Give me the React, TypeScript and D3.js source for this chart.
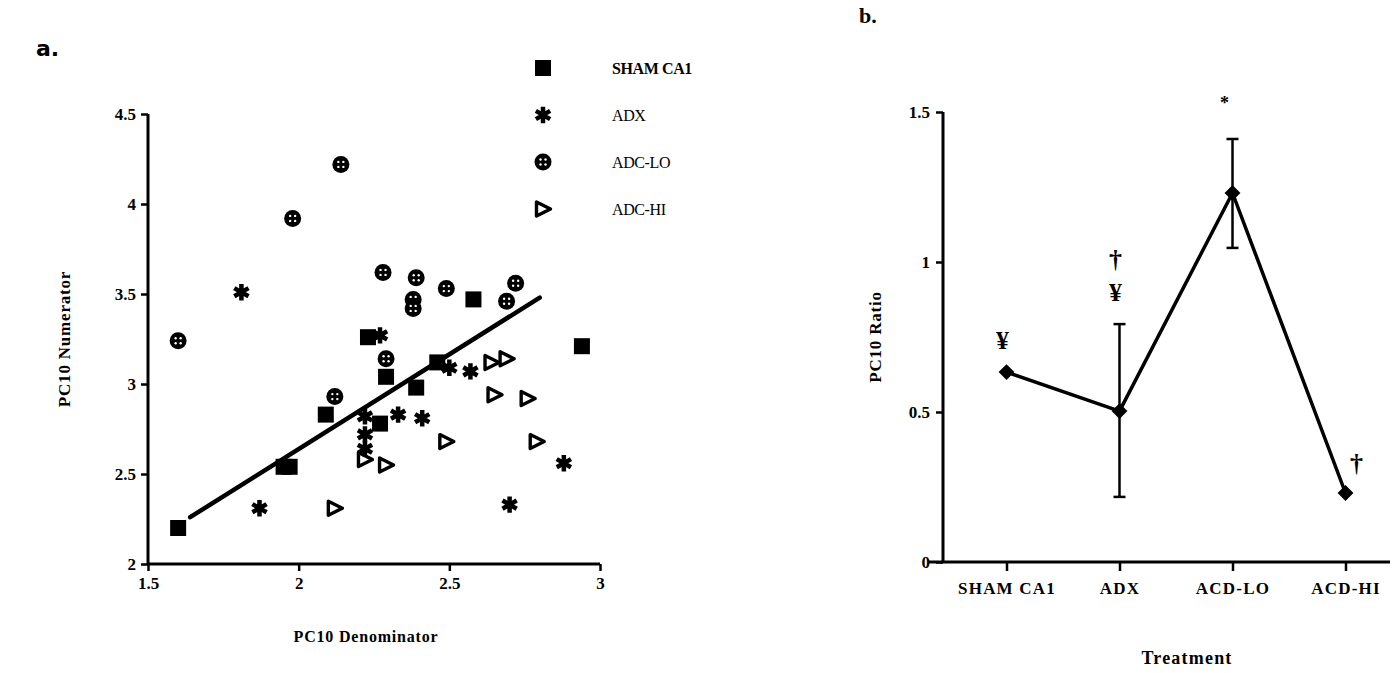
import * as d3 from "d3";
import React, { useRef, useEffect } from "react";

// panel a: PC10 numerator vs denominator, by group
const shamPts = [
  [1.6, 2.2], [1.95, 2.54], [1.97, 2.54], [2.09, 2.83], [2.23, 3.26], [2.29, 3.04],
  [2.27, 2.78], [2.39, 2.98], [2.46, 3.12], [2.58, 3.47], [2.94, 3.21],
];
const adxPts = [
  [1.81, 3.51], [1.87, 2.31], [2.27, 3.27], [2.5, 3.09], [2.57, 3.07], [2.22, 2.82],
  [2.33, 2.83], [2.41, 2.81], [2.22, 2.72], [2.22, 2.64], [2.88, 2.56], [2.7, 2.33],
];
const adcLoPts = [
  [1.6, 3.24], [1.98, 3.92], [2.14, 4.22], [2.28, 3.62], [2.39, 3.59], [2.38, 3.47],
  [2.38, 3.42], [2.49, 3.53], [2.72, 3.56], [2.69, 3.46], [2.29, 3.14], [2.12, 2.93],
];
const adcHiPts = [
  [2.12, 2.31], [2.22, 2.58], [2.29, 2.55], [2.49, 2.68], [2.64, 3.12], [2.69, 3.14],
  [2.65, 2.94], [2.76, 2.92], [2.79, 2.68],
];
const fitLine = [[1.64, 2.26], [2.8, 3.48]];
const legendLabels = ["SHAM CA1", "ADX", "ADC-LO", "ADC-HI"];
const xTicksA = [1.5, 2, 2.5, 3];
const yTicksA = [2, 2.5, 3, 3.5, 4, 4.5];

// panel b: PC10 ratio by treatment
const treatments = ["SHAM CA1", "ADX", "ACD-LO", "ACD-HI"];
const ratioValues = [0.633, 0.503, 1.23, 0.23];
const ratioErrors = [null, [0.217, 0.793], [1.047, 1.41], null];
const marks = [
  { t: "SHAM CA1", v: 0.74, s: "¥", dx: -4 },
  { t: "ADX", v: 0.9, s: "¥", dx: -4 },
  { t: "ADX", v: 1.01, s: "†", dx: -4 },
  { t: "ACD-LO", v: 1.53, s: "*", dx: -8 },
  { t: "ACD-HI", v: 0.33, s: "†", dx: 11 },
];
const yTicksB = [0, 0.5, 1, 1.5];

const serif = "'Liberation Serif', 'DejaVu Serif', serif";

const App = () => {
  const ref = useRef(null);

  useEffect(() => {
    const width = 1398;
    const height = 673;
    const svg = d3.create("svg").attr("width", width).attr("height", height)
      .style("display", "block").style("background", "#fff");

    // ---------- panel a ----------
    const x = d3.scaleLinear().domain([1.5, 3]).range([148, 600]);
    const y = d3.scaleLinear().domain([2, 4.5]).range([564, 114]);

    const ga = svg.append("g");
    ga.append("text").attr("x", 36).attr("y", 56).text("a.")
      .attr("font-family", "'DejaVu Sans', sans-serif").attr("font-weight", "bold").attr("font-size", 22);

    const axA = ga.append("g");
    axA.append("g").attr("transform", `translate(0,${y(2)})`)
      .call(d3.axisBottom(x).tickValues(xTicksA).tickSize(7).tickPadding(6).tickFormat(d3.format("")))
      .call(g => g.select(".domain").attr("stroke-width", 3).attr("d", `M${x(1.5)},0H${x(3)}`))
      .call(g => g.selectAll(".tick line").attr("stroke-width", 2.5))
      .call(g => g.selectAll(".tick text").attr("font-family", serif).attr("font-size", 17)
        .attr("font-weight", "bold").attr("fill", "#000"));
    axA.append("g").attr("transform", `translate(${x(1.5)},0)`)
      .call(d3.axisLeft(y).tickValues(yTicksA).tickSize(7).tickPadding(5).tickFormat(d3.format("")))
      .call(g => g.select(".domain").attr("stroke-width", 3).attr("d", `M0,${y(4.5)}V${y(2)}`))
      .call(g => g.selectAll(".tick line").attr("stroke-width", 2.5))
      .call(g => g.selectAll(".tick text").attr("font-family", serif).attr("font-size", 17)
        .attr("font-weight", "bold").attr("fill", "#000"));

    ga.append("text").attr("transform", `translate(70,${(y(2) + y(4.5)) / 2}) rotate(-90)`)
      .attr("text-anchor", "middle").attr("font-family", serif).attr("font-weight", "bold")
      .attr("font-size", 17).attr("letter-spacing", 0.8).text("PC10  Numerator");
    ga.append("text").attr("x", 366).attr("y", 642).attr("text-anchor", "middle")
      .attr("font-family", serif).attr("font-weight", "bold").attr("font-size", 16)
      .attr("letter-spacing", 0.8).text("PC10  Denominator");

    ga.append("line").attr("x1", x(fitLine[0][0])).attr("y1", y(fitLine[0][1]))
      .attr("x2", x(fitLine[1][0])).attr("y2", y(fitLine[1][1]))
      .attr("stroke", "#000").attr("stroke-width", 4.5).attr("stroke-linecap", "round");

    const drawSquare = (g, cx, cy) => g.append("rect").attr("x", cx - 8).attr("y", cy - 8)
      .attr("width", 16).attr("height", 16).attr("fill", "#000");
    const drawStar = (g, cx, cy) => g.append("path").attr("transform", `translate(${cx},${cy})`)
      .attr("d", d3.symbol(d3.symbolAsterisk, 190)()).attr("stroke", "#000").attr("stroke-width", 4.5)
      .attr("fill", "none");
    const drawCircle = (g, cx, cy) => {
      const c = g.append("g").attr("transform", `translate(${cx},${cy})`);
      c.append("circle").attr("r", 8.5).attr("fill", "#000");
      [[-2.5, -2.5], [2.5, -2.5], [-2.5, 2.5], [2.5, 2.5]].forEach(([dx, dy]) =>
        c.append("circle").attr("cx", dx).attr("cy", dy).attr("r", 1.2).attr("fill", "#fff"));
    };
    const drawTri = (g, cx, cy) => g.append("path").attr("transform", `translate(${cx},${cy})`)
      .attr("d", "M-6.5,-7L7.5,0L-6.5,7Z").attr("fill", "none").attr("stroke", "#000")
      .attr("stroke-width", 3.4).attr("stroke-linejoin", "round");

    const groups = [
      [shamPts, drawSquare], [adxPts, drawStar], [adcLoPts, drawCircle], [adcHiPts, drawTri],
    ];
    const pts = ga.append("g");
    groups.forEach(([data, fn]) => data.forEach(([a, b]) => fn(pts, x(a), y(b))));

    // legend
    const leg = ga.append("g");
    legendLabels.forEach((lab, i) => {
      const ly = 68 + i * 47;
      groups[i][1](leg, 543, ly);
      leg.append("text").attr("x", 612).attr("y", ly).attr("dy", "0.35em")
        .attr("font-family", serif).attr("font-size", 16)
        .attr("font-weight", i === 0 ? "bold" : "normal").attr("letter-spacing", -0.4).text(lab);
    });

    // ---------- panel b ----------
    const xb = d3.scalePoint().domain(treatments).range([943, 1409]).padding(0.562);
    const yb = d3.scaleLinear().domain([0, 1.5]).range([562, 112]);
    const gb = svg.append("g");

    gb.append("text").attr("x", 859).attr("y", 23).text("b.")
      .attr("font-family", serif).attr("font-weight", "bold").attr("font-size", 22);

    gb.append("g").attr("transform", `translate(0,${yb(0)})`)
      .call(d3.axisBottom(xb).tickSize(9).tickPadding(11))
      .call(g => g.select(".domain").attr("stroke-width", 3).attr("d", `M928,0H1398`))
      .call(g => g.selectAll(".tick line").attr("stroke-width", 2.5))
      .call(g => g.selectAll(".tick text").attr("font-family", serif).attr("font-size", 17)
        .attr("font-weight", "bold").attr("letter-spacing", 1.2).attr("fill", "#000"));
    gb.append("g").attr("transform", `translate(943,0)`)
      .call(d3.axisLeft(yb).tickValues(yTicksB).tickSize(7).tickPadding(6).tickFormat(d3.format("")))
      .call(g => g.select(".domain").attr("stroke-width", 3).attr("d", `M0,${yb(1.5)}V${yb(0)}`))
      .call(g => g.selectAll(".tick line").attr("stroke-width", 2.5))
      .call(g => g.selectAll(".tick text").attr("font-family", serif).attr("font-size", 17)
        .attr("font-weight", "bold").attr("fill", "#000"));

    gb.append("text").attr("transform", `translate(881,${(yb(0) + yb(1.5)) / 2}) rotate(-90)`)
      .attr("text-anchor", "middle").attr("font-family", serif).attr("font-weight", "bold")
      .attr("font-size", 17).attr("letter-spacing", 0.8).text("PC10  Ratio");
    gb.append("text").attr("x", 1187).attr("y", 664).attr("text-anchor", "middle")
      .attr("font-family", serif).attr("font-weight", "bold").attr("font-size", 18)
      .attr("letter-spacing", 1.2).text("Treatment");

    // error bars
    ratioErrors.forEach((e, i) => {
      if (!e) return;
      const cx = xb(treatments[i]);
      gb.append("line").attr("x1", cx).attr("x2", cx).attr("y1", yb(e[0])).attr("y2", yb(e[1]))
        .attr("stroke", "#000").attr("stroke-width", 2.5);
      e.forEach(v => gb.append("line").attr("x1", cx - 6).attr("x2", cx + 6)
        .attr("y1", yb(v)).attr("y2", yb(v)).attr("stroke", "#000").attr("stroke-width", 2.5));
    });

    const line = d3.line().x((d, i) => xb(treatments[i])).y(d => yb(d));
    gb.append("path").attr("d", line(ratioValues)).attr("fill", "none")
      .attr("stroke", "#000").attr("stroke-width", 3.5).attr("stroke-linejoin", "round");

    gb.selectAll(".dia").data(ratioValues).join("path")
      .attr("transform", (d, i) => `translate(${xb(treatments[i])},${yb(d)})`)
      .attr("d", d3.symbol(d3.symbolDiamond2, 160)()).attr("fill", "#000");

    gb.selectAll(".mark").data(marks).join("text")
      .attr("x", d => xb(d.t) + d.dx).attr("y", d => yb(d.v)).attr("dy", "0.35em")
      .attr("text-anchor", "middle").attr("font-family", serif).attr("font-weight", "bold")
      .attr("font-size", d => d.s === "*" ? 18 : 26).text(d => d.s);

    if (ref.current) {
      ref.current.innerHTML = "";
      ref.current.appendChild(svg.node());
    }
  }, []);

  return <div ref={ref} style={{ margin: -8 }}></div>;
};

export default App;
